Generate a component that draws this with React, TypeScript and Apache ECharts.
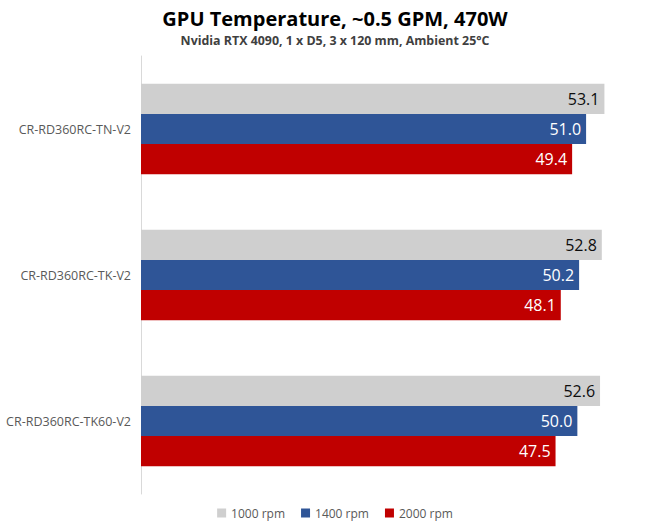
import React, { useEffect, useRef } from "react";
import * as echarts from "echarts";

const categories = ["CR-RD360RC-TN-V2", "CR-RD360RC-TK-V2", "CR-RD360RC-TK60-V2"];
const seriesNames = ["1000 rpm", "1400 rpm", "2000 rpm"];
const values1000 = [53.1, 52.8, 52.6];
const values1400 = [51.0, 50.2, 50.0];
const values2000 = [49.4, 48.1, 47.5];
const colors = ["#cfcfcf", "#2f5597", "#c00000"];
const labelColors = ["#0d0d0d", "#ffffff", "#ffffff"];

const FONT = "'Open Sans', 'Noto Sans', sans-serif";

export default function App() {
  const ref = useRef<HTMLDivElement>(null);
  useEffect(() => {
    if (!ref.current) return;
    const chart = echarts.init(ref.current, null, { renderer: "svg" });
    const data = [values1000, values1400, values2000];
    chart.setOption({
      animation: false,
      backgroundColor: "#ffffff",
      title: {
        text: "GPU Temperature, ~0.5 GPM, 470W",
        subtext: "Nvidia RTX 4090, 1 x D5, 3 x 120 mm, Ambient 25°C",
        left: "center",
        top: 3,
        itemGap: 6,
        textStyle: { fontFamily: FONT, fontSize: 20, fontWeight: "bold", color: "#000000" },
        subtextStyle: { fontFamily: FONT, fontSize: 12.4, fontWeight: "bold", color: "#404040" },
      },
      legend: {
        top: 502,
        left: "center",
        itemWidth: 9,
        itemHeight: 9,
        itemGap: 16,
        icon: "rect",
        textStyle: { fontFamily: FONT, fontSize: 12, color: "#595959" },
        data: seriesNames,
      },
      grid: { left: 141, right: 49, top: 56, bottom: 31, containLabel: false },
      xAxis: {
        type: "value",
        min: 0,
        max: 55,
        show: false,
        splitLine: { show: false },
      },
      yAxis: {
        type: "category",
        data: categories,
        inverse: true,
        axisLine: { show: true, lineStyle: { color: "#d9d9d9", width: 1 } },
        axisTick: { show: false },
        axisLabel: { fontFamily: FONT, fontSize: 12.5, color: "#595959", margin: 10 },
      },
      series: seriesNames.map((name, i) => ({
        name,
        type: "bar",
        data: data[i],
        barGap: "0%",
        barCategoryGap: "38%",
        itemStyle: { color: colors[i] },
        label: {
          show: true,
          position: "insideRight",
          distance: 5,
          formatter: (p: any) => Number(p.value).toFixed(1),
          fontFamily: FONT,
          fontSize: 16,
          color: labelColors[i],
        },
      })),
    });
    return () => chart.dispose();
  }, []);
  return (
    <div
      ref={ref}
      style={{ position: "absolute", left: 0, top: 0, width: 670, height: 525 }}
    />
  );
}
